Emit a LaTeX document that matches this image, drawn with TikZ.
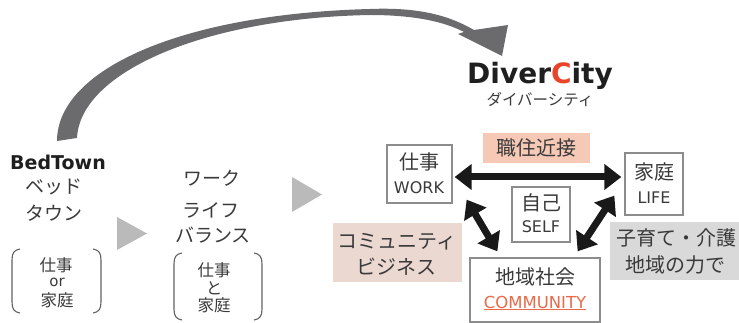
\documentclass[tikz,border=0pt]{standalone}
\usepackage{fontspec}
\setmainfont{DejaVu Sans}
\newfontfamily\jp{Noto Sans CJK JP}
\usetikzlibrary{arrows.meta}
\definecolor{txt}{HTML}{3A3A3A}
\definecolor{boxline}{HTML}{8C8C8C}
\definecolor{salmon}{HTML}{F6C8B6}
\definecolor{beige}{HTML}{EBD9D1}
\definecolor{lgray}{HTML}{D9D9D9}
\definecolor{trig}{HTML}{BABABA}
\definecolor{bigarrow}{HTML}{6B6B6D}
\definecolor{cred}{HTML}{E8442A}
\definecolor{cline}{HTML}{E86A48}
\begin{document}
\begin{tikzpicture}[x=1pt,y=-1pt,
  box/.style={draw=boxline,line width=1.3pt,fill=white,inner sep=0pt},
  tag/.style={draw=none,inner sep=0pt},
  jt/.style={font=\jp\fontsize{20}{22}\selectfont,text=txt,inner sep=0pt},
  jm/.style={font=\jp\fontsize{19}{21}\selectfont,text=txt,inner sep=0pt},
  js/.style={font=\jp\fontsize{16.5}{18}\selectfont,text=txt,inner sep=0pt},
  lt/.style={font=\fontsize{16}{18}\selectfont,text=txt,inner sep=0pt},
  brk/.style={draw=txt!80,line width=1.1pt},
  dbl/.style={line width=7pt,black!90,{Triangle[length=17pt,width=25pt]}-{Triangle[length=17pt,width=25pt]}}]
\useasboundingbox (0,0) rectangle (739,323);

% big curved arrow
\fill[bigarrow] (57,141) .. controls (57,70) and (180,14) .. (370,9)
  .. controls (420,7) and (450,16) .. (474,30) -- (508,25) -- (502,56) -- (458,34) -- (464,32)
  .. controls (445,22) and (415,15) .. (370,15)
  .. controls (205,18) and (80,72) .. (77,138) -- cycle;

% DiverCity
\node[font=\bfseries\fontsize{28}{30}\selectfont,text=black!88,inner sep=0pt] (dc) at (540,76) {Diver\textcolor{cred}{C}ity};
\node[font=\jp\fontsize{15.5}{17}\selectfont,text=txt,inner sep=0pt] (dck) at (540,100) {ダイバーシティ};

% column 1
\node[font=\bfseries\fontsize{19}{21}\selectfont,text=black!88,inner sep=0pt] (bt) at (58,162.5) {BedTown};
\node[jm] (bt1) at (54,187) {ベッド};
\node[jm] (bt2) at (54,213) {タウン};
\draw[brk] (20,249) .. controls (14,250) and (12,253) .. (12,260) -- (12,302) .. controls (12,309) and (14,312) .. (20,313);
\draw[brk] (93,249) .. controls (99,250) and (101,253) .. (101,260) -- (101,302) .. controls (101,309) and (99,312) .. (93,313);
\node[js] (c1a) at (56,265) {仕事};
\node[font=\fontsize{15}{17}\selectfont,text=txt,inner sep=0pt] (c1b) at (57,282) {or};
\node[js] (c1c) at (57,300) {家庭};

% triangles
\fill[trig] (117,217) -- (117,250) -- (147,233.5) -- cycle;
\fill[trig] (292,177) -- (292,212) -- (322,194.5) -- cycle;

% column 2
\node[jm] (wl1) at (212,178) {ワーク};
\node[jm] (wl2) at (211,210) {ライフ};
\node[jm] (wl3) at (213,235) {バランス};
\draw[brk] (182,253) .. controls (176,254) and (174,257) .. (174,264) -- (174,309) .. controls (174,316) and (176,319) .. (182,320);
\draw[brk] (254,253) .. controls (260,254) and (262,257) .. (262,264) -- (262,309) .. controls (262,316) and (260,319) .. (254,320);
\node[js] (c2a) at (214,270) {仕事};
\node[js] (c2b) at (214,288) {と};
\node[js] (c2c) at (214,305) {家庭};

% tag boxes
\node[tag,fill=salmon,minimum width=107pt,minimum height=30pt] (syoku) at (536.5,148) {};
\node[jt] at (syoku) {職住近接};
\node[tag,fill=beige,minimum width=129pt,minimum height=59pt] (cbiz) at (397.5,252.5) {};
\node[jt] (cbiz1) at (397,242) {コミュニティ};
\node[jt] (cbiz2) at (396,267) {ビジネス};
\node[tag,fill=lgray,minimum width=130pt,minimum height=58pt] (kos) at (675,251) {};
\node[jt] (kos1) at (676,238) {子育て・介護};
\node[jt] (kos2) at (675,265) {地域の力で};

% main boxes
\node[box,minimum width=65pt,minimum height=58pt] (work) at (419.5,174) {};
\node[jt] (work1) at (419,162) {仕事};
\node[lt] (work2) at (419,188) {WORK};
\node[box,minimum width=58pt,minimum height=62pt] (life) at (654,184) {};
\node[jt] (life1) at (654,172) {家庭};
\node[lt] (life2) at (654,198) {LIFE};
\node[box,minimum width=58pt,minimum height=55pt] (self) at (541,214.5) {};
\node[jt] (self1) at (541,203) {自己};
\node[lt] (self2) at (541,227) {SELF};
\node[box,minimum width=130pt,minimum height=64pt] (comm) at (535,290) {};
\node[jt] (comm1) at (535,277) {地域社会};
\node[font=\fontsize{16.5}{18}\selectfont,text=cline,inner sep=0pt] (comm2) at (535,303) {\underline{COMMUNITY}};

% arrows
\draw[dbl] ([yshift=-3pt,xshift=2pt]work.east) -- ([yshift=-3pt,xshift=-3pt]work.east -| life.west);
\draw[dbl] ([shift={(14,-4)}]work.south east) -- ([shift={(28,-6)}]comm.north west);
\draw[dbl] ([shift={(-10,-20)}]life.south west) -- ([shift={(-23,-6)}]comm.north east);
\end{tikzpicture}
\end{document}
